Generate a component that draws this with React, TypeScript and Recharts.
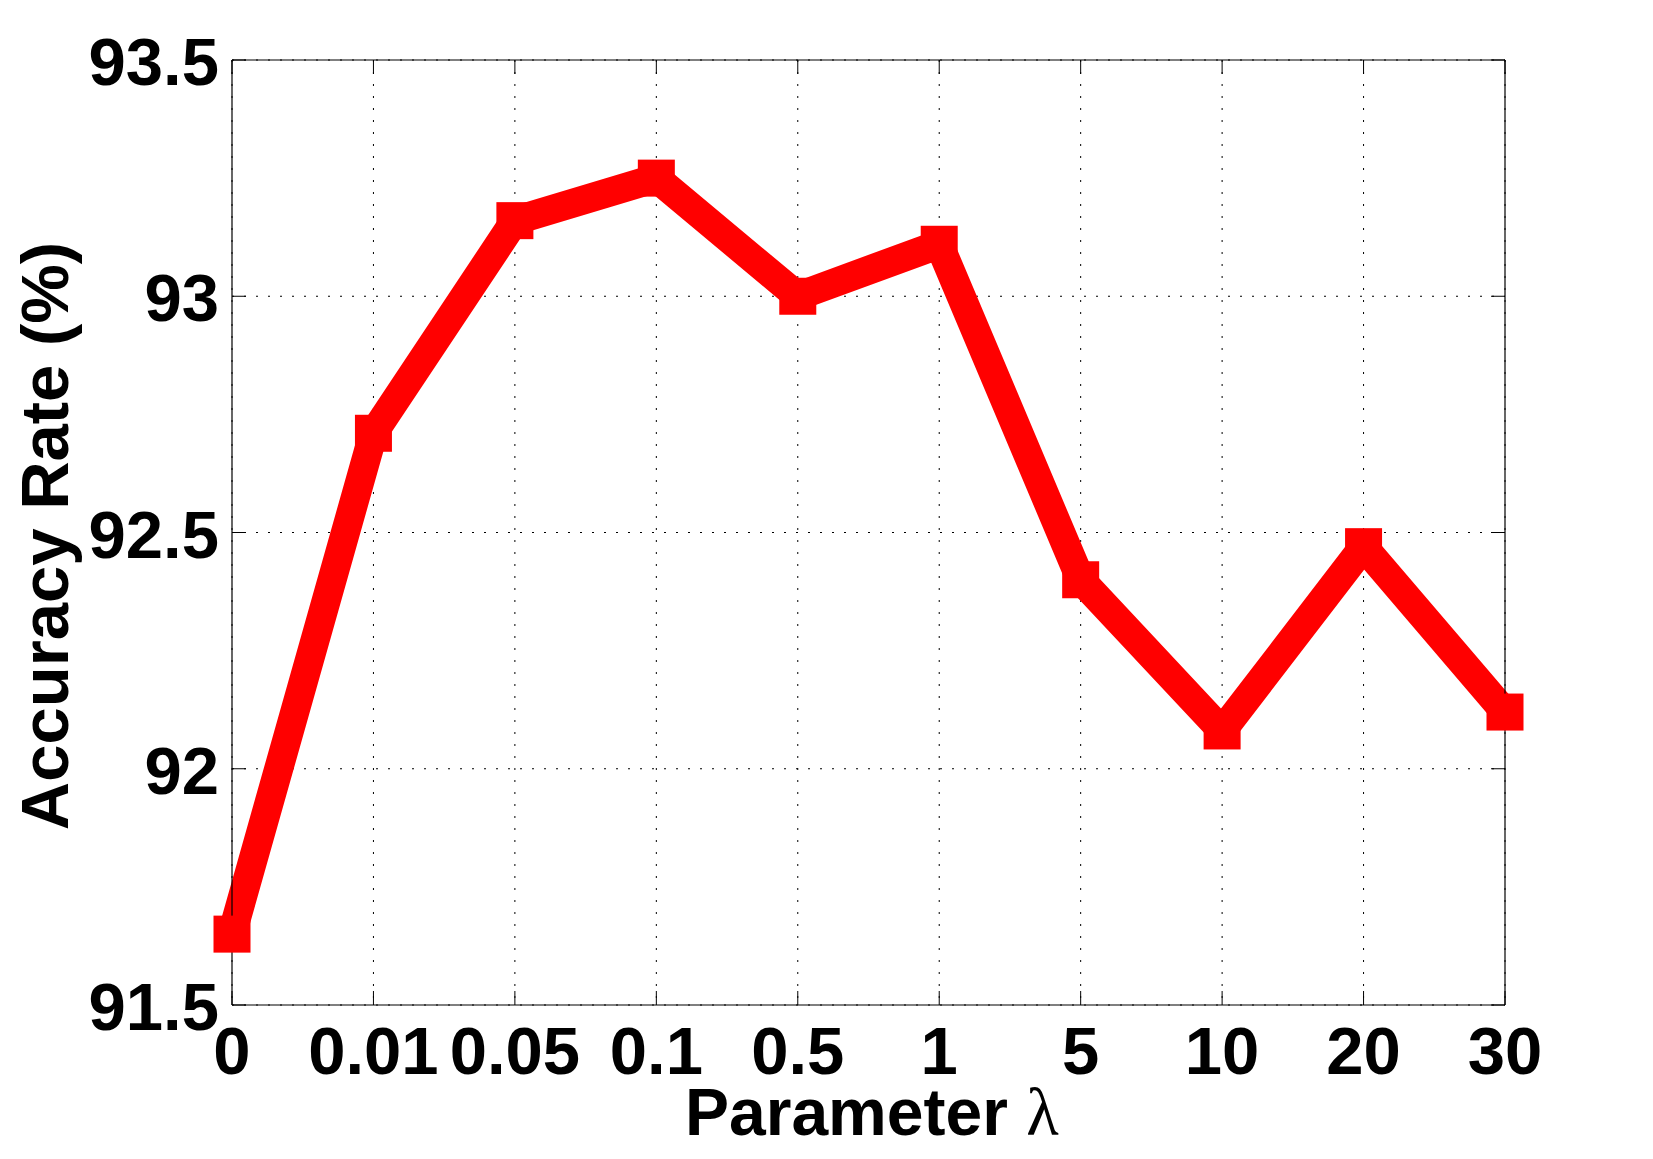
import React from 'react';
import { LineChart, Line, XAxis, YAxis, CartesianGrid } from 'recharts';

const categories = ['0', '0.01', '0.05', '0.1', '0.5', '1', '5', '10', '20', '30'];
const accuracy = [91.65, 92.71, 93.16, 93.25, 93.0, 93.11, 92.4, 92.08, 92.47, 92.12];
const yTicks = [91.5, 92, 92.5, 93, 93.5];
const yTickLabels = ['91.5', '92', '92.5', '93', '93.5'];
const xLabel = 'Parameter';
const xLabelSymbol = 'λ';
const yLabel = 'Accuracy Rate (%)';

const data = categories.map((c, i) => ({ idx: i, label: c, acc: accuracy[i] }));
const xTicks = categories.map((_, i) => i);

const FONT = "'Liberation Sans', Arial, sans-serif";
const FS = 67;
const TICK_LEN = 14;

const BottomTick = (props: any) => {
  const { x, y, payload } = props;
  return (
    <g>
      <line x1={x} y1={y} x2={x} y2={y - TICK_LEN} stroke="#000" strokeWidth={1} />
      <text x={x} y={y + 69} textAnchor="middle" fontSize={FS} fontWeight="bold" fontFamily={FONT} fill="#000">
        {categories[payload.value]}
      </text>
    </g>
  );
};

const LeftTick = (props: any) => {
  const { x, y, payload } = props;
  const i = yTicks.indexOf(payload.value);
  return (
    <g>
      <line x1={x} y1={y} x2={x + TICK_LEN} y2={y} stroke="#000" strokeWidth={1} />
      <text x={x - 13} y={y + 25} textAnchor="end" fontSize={FS} fontWeight="bold" fontFamily={FONT} fill="#000">
        {i >= 0 ? yTickLabels[i] : String(payload.value)}
      </text>
    </g>
  );
};

const TopTick = (props: any) => {
  const { x, y } = props;
  return <line x1={x} y1={y} x2={x} y2={y + TICK_LEN} stroke="#000" strokeWidth={1} />;
};

const RightTick = (props: any) => {
  const { x, y } = props;
  return <line x1={x} y1={y} x2={x - TICK_LEN} y2={y} stroke="#000" strokeWidth={1} />;
};

const SquareDot = (props: any) => {
  const { cx, cy, index } = props;
  if (cx == null || cy == null) return <g key={`d-${index}`} />;
  return <rect key={`d-${index}`} x={cx - 18.5} y={cy - 18.5} width={37} height={37} fill="#FF0000" />;
};

const XLabelContent = () => (
  <text x={677} y={1127} textAnchor="start" fontSize={66} fontFamily={FONT} fill="#000">
    <tspan fontWeight="bold">{xLabel} </tspan>
    <tspan fontFamily="'Liberation Serif', 'Times New Roman', serif" fontWeight="normal" fontSize={67}>
      {xLabelSymbol}
    </tspan>
  </text>
);

const YLabelContent = () => (
  <text
    x={60}
    y={528}
    textAnchor="middle"
    fontSize={FS}
    fontWeight="bold"
    fontFamily={FONT}
    fill="#000"
    transform="rotate(-90, 60, 528)"
  >
    {yLabel}
  </text>
);

export default function App() {
  return (
    <div style={{ width: 1645, height: 1151, background: '#fff', fontFamily: FONT }}>
      <LineChart
        width={1645}
        height={1151}
        data={data}
        margin={{ top: 42, right: 138, bottom: 54, left: 0 }}
      >
        <CartesianGrid stroke="#000" strokeWidth={1} strokeDasharray="2 10" />
        <XAxis
          dataKey="idx"
          type="number"
          domain={[0, 9]}
          ticks={xTicks}
          interval={0}
          height={100}
          tickSize={0}
          tickMargin={0}
          tickLine={false}
          axisLine={{ stroke: '#000', strokeWidth: 1.2 }}
          tick={<BottomTick />}
          label={{ content: <XLabelContent /> }}
        />
        <XAxis
          xAxisId="top"
          orientation="top"
          dataKey="idx"
          type="number"
          domain={[0, 9]}
          ticks={xTicks}
          interval={0}
          height={10}
          tickSize={0}
          tickMargin={0}
          tickLine={false}
          axisLine={{ stroke: '#000', strokeWidth: 1.2 }}
          tick={<TopTick />}
        />
        <YAxis
          type="number"
          domain={[91.5, 93.5]}
          ticks={yTicks}
          interval={0}
          width={224}
          tickSize={0}
          tickMargin={0}
          tickLine={false}
          axisLine={{ stroke: '#000', strokeWidth: 1.2 }}
          tick={<LeftTick />}
          label={{ content: <YLabelContent /> }}
        />
        <YAxis
          yAxisId="right"
          orientation="right"
          type="number"
          domain={[91.5, 93.5]}
          ticks={yTicks}
          interval={0}
          width={10}
          tickSize={0}
          tickMargin={0}
          tickLine={false}
          axisLine={{ stroke: '#000', strokeWidth: 1.2 }}
          tick={<RightTick />}
        />
        <Line
          xAxisId="top"
          yAxisId="right"
          dataKey="acc"
          stroke="none"
          dot={false}
          activeDot={false}
          isAnimationActive={false}
          legendType="none"
        />
        <Line
          dataKey="acc"
          stroke="#FF0000"
          strokeWidth={29}
          strokeLinejoin="round"
          dot={<SquareDot />}
          activeDot={false}
          isAnimationActive={false}
        />
      </LineChart>
    </div>
  );
}
